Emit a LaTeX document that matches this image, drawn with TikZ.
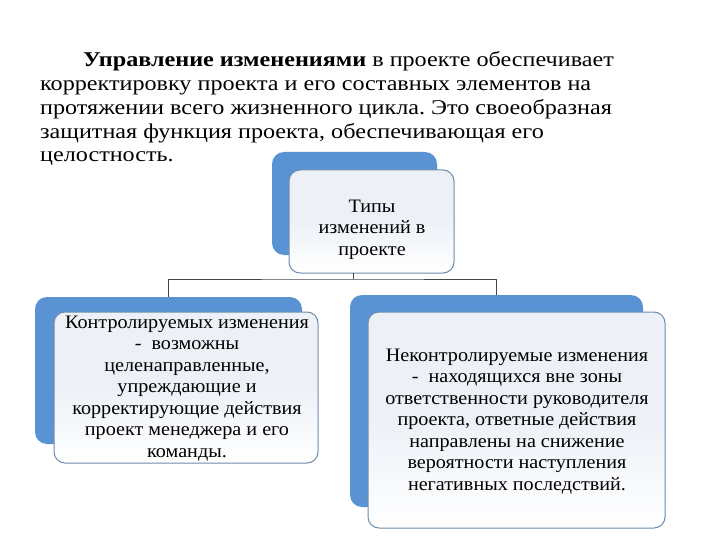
\documentclass[tikz,border=0pt]{standalone}
\usepackage{fontspec}
\setmainfont{Liberation Serif}
\newfontfamily\parafont[FakeStretch=1.15]{Liberation Serif}
\newfontfamily\boxfont[FakeStretch=1.06]{Liberation Serif}
\frenchspacing
\definecolor{backblue}{RGB}{90,147,212}
\definecolor{frontfill}{RGB}{237,241,247}
\definecolor{frontdraw}{RGB}{110,140,170}
\definecolor{connc}{RGB}{70,70,70}
\tikzset{
  backbox/.style={fill=backblue, draw=none, rounded corners=12pt},
  frontbox/.style={draw=frontdraw, line width=1pt, top color=frontfill, bottom color=white, middle color=frontfill, rounded corners=11pt},
  para/.style={anchor=base west, inner sep=0pt, font=\parafont\fontsize{21}{24}\selectfont},
  boxtext/.style={align=center, inner sep=0pt, font=\boxfont\fontsize{19}{21.5}\selectfont},
  conn/.style={draw=connc, line width=0.8pt}
}
\begin{document}
\begin{tikzpicture}[x=1pt,y=-1pt]
\useasboundingbox (0,0) rectangle (720,540);
% paragraph
\node[para] (p1) at (83,67) {\textbf{Управление изменениями} в проекте обеспечивает};
\node[para] (p2) at (40,90.75) {корректировку проекта и его составных элементов на};
\node[para] (p3) at (40,114.5) {протяжении всего жизненного цикла. Это своеобразная};
\node[para] (p4) at (40,138.25) {защитная функция проекта, обеспечивающая его};
\node[para] (p5) at (40,162) {целостность.};
% back boxes
\path[backbox] (272,152) rectangle (437,255);
\path[backbox] (35,297) rectangle (302,444);
\path[backbox] (350,295) rectangle (643,507);
\node[inner sep=0pt, minimum width=267pt, minimum height=1pt, anchor=north] (lback) at (168.5,297) {};
\node[inner sep=0pt, minimum width=293pt, minimum height=1pt, anchor=north] (rback) at (496.5,295) {};
% front boxes
\path[frontbox] (289,170) rectangle (454,273);
\node[inner sep=0pt, minimum width=165pt, minimum height=103pt] (cfront) at (371.5,221.5) {};
\path[frontbox] (54,312) rectangle (318,463);
\path[frontbox] (368,312) rectangle (665,528);
% connectors
\coordinate (jc) at (353,279);
\draw[conn] (cfront.south -| jc) -- (jc);
\draw[conn] (lback.north) |- (jc) -| (rback.north);
% texts
\node[boxtext, anchor=base] (ctext) at (372,255) {Типы\\изменений в\\проекте};
\node[boxtext, anchor=base] (ltext) at (187,457) {Контролируемых изменения\\- \ возможны\\целенаправленные,\\упреждающие и\\корректирующие действия\\проект менеджера и его\\команды.};
\node[boxtext, anchor=base] (rtext) at (517,490) {Неконтролируемые изменения\\- \ находящихся вне зоны\\ответственности руководителя\\проекта, ответные действия\\направлены на снижение\\вероятности наступления\\негативных последствий.};
\end{tikzpicture}
\end{document}
